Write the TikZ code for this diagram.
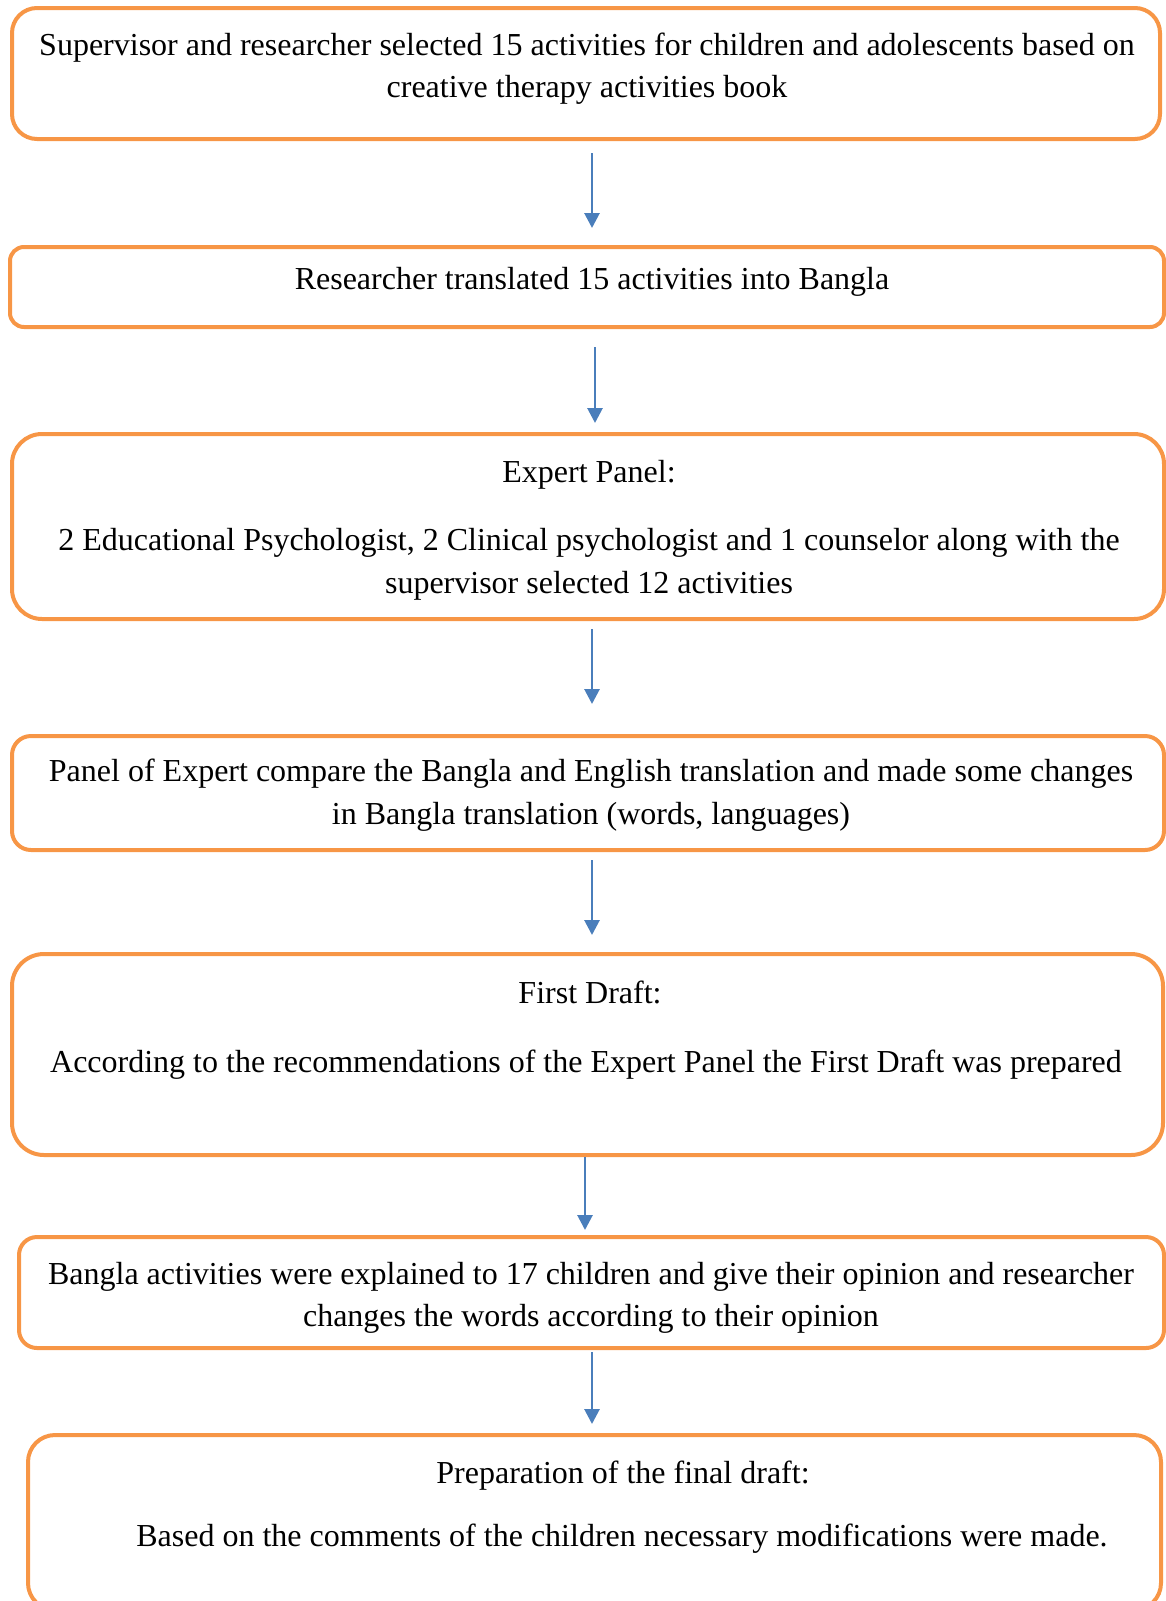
\documentclass[tikz,border=0pt]{standalone}
\usepackage{fontspec}
\setmainfont{Liberation Serif}
\usetikzlibrary{arrows.meta}
\definecolor{boxorange}{HTML}{F79646}
\definecolor{arrblue}{HTML}{4A7EBB}
\tikzset{
  flowbox/.style={draw=boxorange, line width=2pt, inner sep=0pt},
  txt/.style={anchor=base, inner sep=0pt, font=\fontsize{16pt}{21pt}\selectfont},
  arr/.style={draw=arrblue, line width=1.4pt, -{Triangle[width=7.5pt,length=7.5pt]}}
}
\begin{document}
\begin{tikzpicture}[x=0.5pt,y=-0.5pt]
\useasboundingbox (0,0) rectangle (1166,1601);
% boxes
\node[flowbox, rounded corners=12.5pt, minimum width=574pt, minimum height=65.5pt] (b1) at (586,73.5) {};
\node[flowbox, rounded corners=7pt, minimum width=577pt, minimum height=40pt] (b2) at (587,287) {};
\node[flowbox, rounded corners=15pt, minimum width=576pt, minimum height=92.5pt] (b3) at (588,526.5) {};
\node[flowbox, rounded corners=9.5pt, minimum width=576pt, minimum height=57pt] (b4) at (588,793) {};
\node[flowbox, rounded corners=16pt, minimum width=575.5pt, minimum height=100.5pt] (b5) at (587.5,1054.5) {};
\node[flowbox, rounded corners=9pt, minimum width=572.5pt, minimum height=55.5pt] (b6) at (591.5,1292.5) {};
\node[flowbox, rounded corners=13.5pt, minimum width=566.5pt, minimum height=87.5pt] (b7) at (594.5,1522.5) {};
% texts
\node[txt] (t1a) at (587,55) {Supervisor and researcher selected 15 activities for children and adolescents based on};
\node[txt] (t1b) at (587,97) {creative therapy activities book};
\node[txt] (t2a) at (592,289) {Researcher translated 15 activities into Bangla};
\node[txt] (t3a) at (589,482) {Expert Panel:};
\node[txt] (t3b) at (589,550) {2 Educational Psychologist, 2 Clinical psychologist and 1 counselor along with the};
\node[txt] (t3c) at (589,593) {supervisor selected 12 activities};
\node[txt] (t4a) at (591,781) {Panel of Expert compare the Bangla and English translation and made some changes};
\node[txt] (t4b) at (591,824) {in Bangla translation (words, languages)};
\node[txt] (t5a) at (590,1003) {First Draft:};
\node[txt] (t5b) at (586,1072) {According to the recommendations of the Expert Panel the First Draft was prepared};
\node[txt] (t6a) at (591,1284) {Bangla activities were explained to 17 children and give their opinion and researcher};
\node[txt] (t6b) at (591,1326) {changes the words according to their opinion};
\node[txt] (t7a) at (623,1483) {Preparation of the final draft:};
\node[txt] (t7b) at (622,1546) {Based on the comments of the children necessary modifications were made.};
% arrows
\draw[arr, shorten <=6pt, shorten >=8.5pt] ([xshift=3pt]b1.south) -- ([xshift=3pt]b1.south |- b2.north);
\draw[arr, shorten <=9pt, shorten >=4.5pt] ([xshift=4pt]b2.south) -- ([xshift=4pt]b2.south |- b3.north);
\draw[arr, shorten <=4pt, shorten >=15pt] ([xshift=2pt]b3.south) -- ([xshift=2pt]b3.south |- b4.north);
\draw[arr, shorten <=4pt, shorten >=8.5pt] ([xshift=2pt]b4.south) -- ([xshift=2pt]b4.south |- b5.north);
\draw[arr, shorten <=0pt, shorten >=2.5pt] ([xshift=-1.25pt]b5.south) -- ([xshift=-1.25pt]b5.south |- b6.north);
\draw[arr, shorten <=1pt, shorten >=4.5pt] ([xshift=0.25pt]b6.south) -- ([xshift=0.25pt]b6.south |- b7.north);
\end{tikzpicture}
\end{document}
